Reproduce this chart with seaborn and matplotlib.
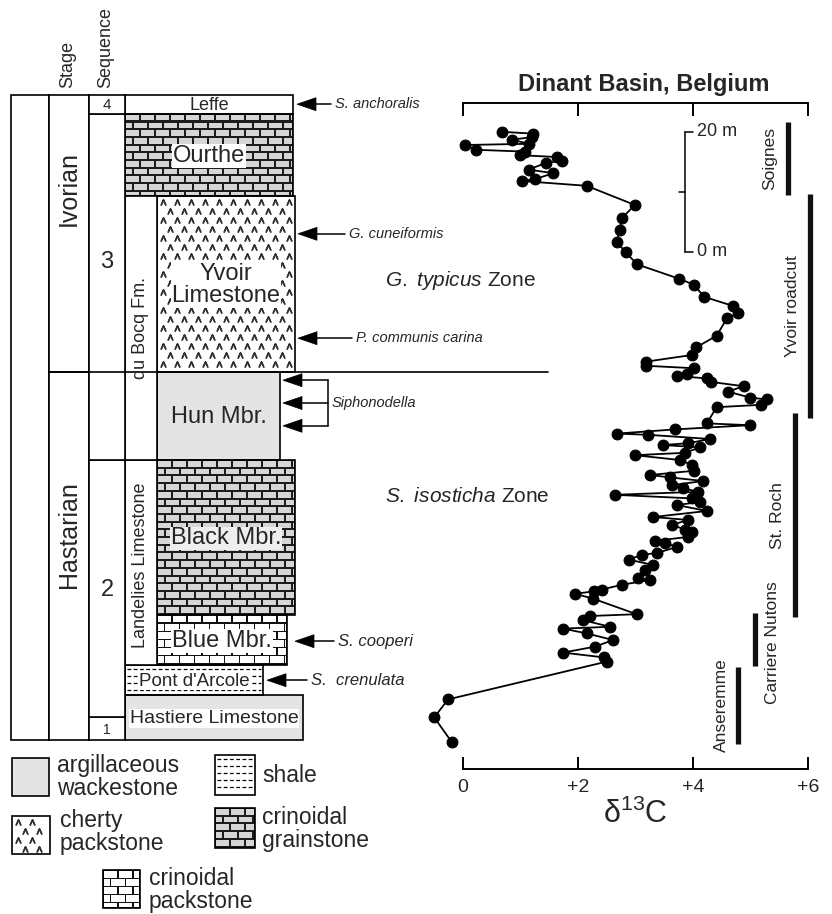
import numpy as np
import pandas as pd
import matplotlib
matplotlib.use("Agg")
import matplotlib.pyplot as plt
import seaborn as sns
from matplotlib.patches import Rectangle, Polygon

# ---------------- data ----------------
# carbon isotope curve (height above base of column, metres ; delta13C permil)
height_m = [0.55, 4.6, 7.6, 13.9, 14.6, 15.4, 16.4, 17.5, 18.6, 19.4, 19.7, 20.8, 21.5, 21.8,
            24.4, 25.2, 25.6, 25.9, 26.7, 27.5, 27.8, 29.2, 30.0, 30.9, 31.7, 32.0, 33.0, 33.7,
            34.0, 34.7, 35.5, 35.9, 36.7, 37.5, 38.0, 39.0, 40.0, 40.5, 41.1, 41.7, 42.2, 42.8,
            43.3, 44.0, 44.6, 45.0, 45.7, 46.7, 47.5, 48.3, 48.7, 49.6, 50.0, 50.3, 51.0, 51.7,
            51.9, 52.6, 53.3, 53.6, 56.3, 56.7, 57.6, 57.9, 58.9, 59.8, 60.5, 61.1, 61.5, 61.9,
            62.8, 63.2, 63.9, 65.0, 66.3, 68.2, 71.1, 72.0, 73.2, 74.7, 76.7, 77.7, 80.1, 82.1,
            83.9, 85.9, 87.8, 90.0, 93.2, 94.0, 94.3, 95.3, 95.9, 97.0, 97.4, 98.0, 98.3, 98.9,
            99.2, 100.0, 100.2, 100.9, 101.3, 101.9, 102.2]
d13c = [-0.20, -0.50, -0.26, 2.50, 2.45, 1.74, 2.30, 2.61, 2.15, 1.74, 2.56, 2.09, 2.21, 3.02,
        2.26, 1.95, 2.27, 2.41, 2.76, 3.25, 3.05, 3.17, 3.31, 2.88, 3.11, 3.37, 3.72, 3.51,
        3.34, 3.92, 3.98, 3.86, 3.63, 3.92, 3.31, 4.24, 3.72, 4.12, 3.98, 2.64, 4.09, 3.83,
        3.63, 4.18, 3.60, 3.25, 4.01, 3.98, 3.77, 2.99, 3.86, 4.12, 3.48, 3.92, 4.30, 3.22,
        2.67, 3.69, 4.99, 4.24, 4.41, 5.19, 5.28, 4.99, 4.61, 4.88, 4.32, 4.24, 3.72, 3.89,
        4.01, 3.19, 3.19, 3.98, 4.06, 4.41, 4.59, 4.79, 4.69, 4.19, 4.02, 3.76, 3.03, 2.83,
        2.67, 2.73, 2.76, 2.99, 2.15, 1.02, 1.25, 1.57, 1.14, 1.44, 1.72, 1.63, 0.99, 1.08,
        0.23, 0.03, 1.14, 0.85, 1.20, 1.22, 0.67]

xticks = [0, 2, 4, 6]
xtick_labels = ["0", "+2", "+4", "+6"]

# lithostratigraphic units (heights in metres)
unit_names = ["Hastiere Limestone", "Pont d'Arcole", "Blue Mbr.", "Black Mbr.", "Hun Mbr.",
              "Yvoir\nLimestone", "Ourthe", "Leffe"]
unit_base = [0.8, 8.3, 13.3, 21.7, 47.5, 62.2, 91.5, 105.2]
unit_top = [8.3, 13.3, 21.7, 47.5, 62.2, 91.5, 105.2, 108.4]
unit_lith = ["argillaceous wackestone", "shale", "crinoidal packstone", "crinoidal grainstone",
             "argillaceous wackestone", "cherty packstone", "crinoidal grainstone", "plain"]

stage_names = ["Hastarian", "Ivorian"]
stage_base = [0.8, 62.2]
stage_top = [62.2, 108.4]

seq_names = ["1", "2", "3", "4"]
seq_base = [0.8, 4.7, 47.5, 105.2]
seq_top = [4.7, 47.5, 105.2, 108.4]

formation_names = ["Landelies Limestone", "du Bocq Fm."]
formation_base = [13.3, 47.5]
formation_top = [47.5, 91.5]

conodont_names = ["S. anchoralis", "G. cuneiformis", "P. communis carina", "S. cooperi", "S.  crenulata"]
conodont_h = [106.8, 85.2, 67.8, 17.3, 10.8]
siphonodella_h = [60.8, 57.0, 53.2]

zone_names = ["G. typicus", "S. isosticha"]
zone_h = [77.5, 41.5]

section_names = ["Soignes", "Yvoir roadcut", "St. Roch", "Carriere Nutons", "Anseremme"]
section_base = [91.7, 54.5, 21.3, 13.2, 0.2]
section_top = [103.8, 91.8, 55.3, 22.0, 13.0]

legend_items = ["argillaceous wackestone", "cherty packstone", "shale",
                "crinoidal grainstone", "crinoidal packstone"]
legend_labels = ["argillaceous\nwackestone", "cherty\npackstone", "shale",
                 "crinoidal\ngrainstone", "crinoidal\npackstone"]

# ---------------- style ----------------
sns.set_style("white")
plt.rcParams['font.family'] = ['Liberation Sans', 'DejaVu Sans']
plt.rcParams['mathtext.fontset'] = 'custom'
plt.rcParams['mathtext.rm'] = 'Liberation Sans'
plt.rcParams['mathtext.it'] = 'Liberation Sans:italic'

W, H = 832, 914
fig = plt.figure(figsize=(W / 100, H / 100), dpi=100)

# overlay axes in pixel coordinates for the column diagram
ax0 = fig.add_axes([0, 0, 1, 1])
ax0.set_xlim(0, W)
ax0.set_ylim(H, 0)
ax0.axis('off')


def ypx(h):
    return 745 - 6.0 * h


LW = 1.2
GRAY = '#e4e4e4'


def outline(x0, x1, y0, y1, lw=LW):
    ax0.add_patch(Rectangle((x0, y0), x1 - x0, y1 - y0, fc='none', ec='black', lw=lw, zorder=5))


def bricks(x0, x1, y0, y1, bg, fg, rh, bw, inset):
    ax0.add_patch(Rectangle((x0, y0), x1 - x0, y1 - y0, fc=bg, ec='none', zorder=2))
    n = int(np.ceil((y1 - y0) / rh - 0.05))
    for i in range(n):
        ya = y0 + i * rh
        yb = min(ya + rh, y1)
        off = (i % 2) * bw / 2
        xs = x0 - off
        while xs < x1:
            xa = max(xs, x0)
            xb = min(xs + bw, x1)
            if xb - xa > 2 * inset + 0.5 and yb - ya > 2 * inset + 0.5:
                ax0.add_patch(Rectangle((xa + inset, ya + inset), xb - xa - 2 * inset,
                                        yb - ya - 2 * inset, fc=fg, ec='none', zorder=3))
            xs += bw


def cherty(x0, x1, y0, y1):
    ax0.add_patch(Rectangle((x0, y0), x1 - x0, y1 - y0, fc='white', ec='none', zorder=2))
    xs, ys = [], []
    j = 0
    y = y0 + 6
    while y < y1 - 3:
        off = 7 if j % 2 else 0
        x = x0 + 6 + off
        while x < x1 - 4:
            xs.append(x)
            ys.append(y)
            x += 14
        y += 9
        j += 1
    ax0.plot(xs, ys, ls='none', marker=r'$\wedge$', ms=4.0, color='#333333', zorder=3)


def shale(x0, x1, y0, y1):
    ax0.add_patch(Rectangle((x0, y0), x1 - x0, y1 - y0, fc='white', ec='none', zorder=2))
    y = y0 + 4
    while y < y1 - 2:
        ax0.plot([x0 + 2, x1 - 2], [y, y], ls=(0, (3, 2)), lw=0.9, color='black', zorder=3)
        y += 7


def fill_lith(lith, x0, x1, y0, y1):
    if lith == "crinoidal grainstone":
        bricks(x0, x1, y0, y1, '#1c1c1c', '#d6d6d6', 7.7, 15, 1.0)
    elif lith == "crinoidal packstone":
        bricks(x0, x1, y0, y1, '#111111', 'white', 8.2, 15, 0.55)
    elif lith == "cherty packstone":
        cherty(x0, x1, y0, y1)
    elif lith == "shale":
        shale(x0, x1, y0, y1)
    elif lith == "argillaceous wackestone":
        ax0.add_patch(Rectangle((x0, y0), x1 - x0, y1 - y0, fc=GRAY, ec='none', zorder=2))
    else:
        ax0.add_patch(Rectangle((x0, y0), x1 - x0, y1 - y0, fc='white', ec='none', zorder=2))
    outline(x0, x1, y0, y1)


# ---- column layout ----
X_T0, X_T1 = 11, 49       # Tournaisian
X_S1 = 89                 # stage column right edge
X_Q1 = 125                # sequence column right edge
X_F1 = 157                # formation column right edge
unit_left = [125, 125, 157, 157, 157, 157, 125, 125]
unit_right = [303, 263, 287, 295, 280, 295, 293, 293]
unit_fs = [14, 13.5, 17, 17, 17, 17, 17, 13]
unit_box = ['white', 'white', 'white', '#eeeeee', None, 'white', 'white', None]

for name, b, t, lith, xl, xr, fs, bx in zip(unit_names, unit_base, unit_top, unit_lith,
                                              unit_left, unit_right, unit_fs, unit_box):
    y0, y1 = ypx(t), ypx(b)
    fill_lith(lith, xl, xr, y0, y1)
    kw = {}
    if bx is not None:
        kw['bbox'] = dict(fc=bx, ec='none', pad=0.5)
    ax0.text((xl + xr) / 2, (y0 + y1) / 2 + 1, name, ha='center', va='center', fontsize=fs,
             linespacing=1.0, zorder=8, **kw)

# formation column
for name, b, t in zip(formation_names, formation_base, formation_top):
    y0, y1 = ypx(t), ypx(b)
    ax0.add_patch(Rectangle((X_Q1, y0), X_F1 - X_Q1, y1 - y0, fc='white', ec='black', lw=LW, zorder=5))
    ax0.text((X_Q1 + X_F1) / 2 - 0.5, (y0 + y1) / 2 + (0 if name.startswith('du') else 3), name,
             rotation=90, ha='center', va='center', fontsize=13, zorder=8)

# Tournaisian, stage and sequence columns
top_y, bot_y = ypx(stage_top[-1]), ypx(stage_base[0])
ax0.add_patch(Rectangle((X_T0, top_y), X_T1 - X_T0, bot_y - top_y, fc='white', ec='black', lw=LW, zorder=5))
ax0.text((X_T0 + X_T1) / 2, 423, "TOURNAISIAN", rotation=90, ha='center', va='center', fontsize=21)
stage_y = [535, 188]
for name, b, t, yy in zip(stage_names, stage_base, stage_top, stage_y):
    ax0.add_patch(Rectangle((X_T1, ypx(t)), X_S1 - X_T1, ypx(b) - ypx(t), fc='white', ec='black', lw=LW, zorder=5))
    ax0.text((X_T1 + X_S1) / 2, yy, name, rotation=90, ha='center', va='center', fontsize=18, zorder=8)
seq_fs = [10, 17, 17, 11]
seq_y = [None, 590, 262, None]
for name, b, t, fs, yy in zip(seq_names, seq_base, seq_top, seq_fs, seq_y):
    y0, y1 = ypx(t), ypx(b)
    ax0.add_patch(Rectangle((X_S1, y0), X_Q1 - X_S1, y1 - y0, fc='white', ec='black', lw=LW, zorder=5))
    ax0.text((X_S1 + X_Q1) / 2, yy if yy else (y0 + y1) / 2 + 1, name, ha='center', va='center',
             fontsize=fs, zorder=8)

# stage / zone boundary line extending to the right
ax0.plot([X_T1, 548], [ypx(stage_base[1])] * 2, color='black', lw=LW, zorder=6)

# column headers
ax0.text((X_T1 + X_S1) / 2 - 1, 88, "Stage", rotation=90, ha='center', va='bottom', fontsize=13)
ax0.text((X_S1 + X_Q1) / 2 - 1, 88, "Sequence", rotation=90, ha='center', va='bottom', fontsize=13)


# ---- conodont arrows ----
def arrow(tip_x, y, tail_x, hl=19, hh=6.5):
    ax0.add_patch(Polygon([(tip_x, y), (tip_x + hl, y - hh), (tip_x + hl, y + hh)],
                          closed=True, fc='black', ec='black', lw=0.5, zorder=7))
    ax0.plot([tip_x + hl - 1, tail_x], [y, y], color='black', lw=1.1, zorder=7)


con_tip = [297, 298, 298, 295, 267]
con_tail = [331, 345, 352, 334, 307]
con_fs = [10.5, 10.5, 10.5, 12, 12]
for name, h, tip, tail, fs in zip(conodont_names, conodont_h, con_tip, con_tail, con_fs):
    y = ypx(h)
    arrow(tip, y, tail)
    ax0.text(tail + 4, y, name, style='italic', ha='left', va='center', fontsize=fs)

sy = [ypx(h) for h in siphonodella_h]
for y in sy:
    arrow(283, y, 328)
ax0.plot([328, 328], [sy[0], sy[-1]], color='black', lw=1.1, zorder=7)
ax0.text(332, sy[1], "Siphonodella", style='italic', ha='left', va='center', fontsize=10.5)

for name, h in zip(zone_names, zone_h):
    ax0.text(385, ypx(h), r"$\mathit{" + name.replace(" ", r"\ ") + "}$ Zone",
             ha='left', va='center', fontsize=15)

# ---- lithology legend ----
leg_box = [(12, 758, 49, 796), (12, 816, 50, 854), (215, 755, 255, 795),
           (215, 808, 255, 848), (103, 870, 140, 908)]
leg_txt_x = [57, 60, 262, 262, 149]
leg_txt_y = [777, 832, 775, 829, 890]
for lith, lab, (x0, y0, x1, y1), tx, ty in zip(legend_items, legend_labels, leg_box, leg_txt_x, leg_txt_y):
    fill_lith(lith, x0, x1, y0, y1)
    ax0.text(tx, ty, lab, ha='left', va='center', fontsize=16.5, linespacing=0.98)

# ---------------- isotope curve ----------------
px_per_unit = 57.5
x0px = 463
left_px, right_px = x0px - 1 * px_per_unit, x0px + 6.4 * px_per_unit
ax = fig.add_axes([left_px / W, (H - 769) / H, (right_px - left_px) / W, (769 - 103) / H])
ax.patch.set_alpha(0)
ax.set_xlim(-1, 6.4)
ax.set_ylim(-4, 107)

df = pd.DataFrame({"d13C": d13c, "height": height_m})
sns.lineplot(data=df, x="d13C", y="height", sort=False, estimator=None, color='black',
             lw=1.3, marker='o', markersize=7.8, markeredgecolor='black', ax=ax, zorder=4)

for s in ['left', 'right']:
    ax.spines[s].set_visible(False)
for s in ['top', 'bottom']:
    ax.spines[s].set_visible(True)
    ax.spines[s].set_bounds(0, 6)
    ax.spines[s].set_linewidth(1.4)
    ax.spines[s].set_color('black')
ax.set_yticks([])
ax.set_xticks(xticks)
ax.set_xticklabels(xtick_labels)
ax.tick_params(axis='x', which='both', top=True, bottom=True, direction='in', length=9,
               width=1.4, labeltop=False, labelbottom=True, labelsize=14, pad=7, color='black')
ax.set_ylabel("")
ax.set_xlabel(r"δ$^{13}$C", fontsize=22)
ax.xaxis.set_label_coords((x0px + 3 * px_per_unit - left_px) / (right_px - left_px), -0.044)

# section bars
sec_x = [5.65, 6.03, 5.77, 5.08, 4.78]
sec_dx = [-18, -17, -17, 17, -16]
for name, b, t, x, dx in zip(section_names, section_base, section_top, sec_x, sec_dx):
    ax.plot([x, x], [b, t], color='#111111', lw=3.8, solid_capstyle='butt', clip_on=False)
    ax.text(x + dx / px_per_unit, (b + t) / 2 + (-0.5 if name.startswith('Carr') else 0), name,
            rotation=90, ha='center', va='center', fontsize=12.5, clip_on=False)

# metre scale bar
sb_x = 3.86
scale_m = [0, 20]
sb_base = 82.2
ax.plot([sb_x, sb_x], [sb_base + scale_m[0], sb_base + scale_m[1]], color='black', lw=1.1)
for m in scale_m:
    ax.plot([sb_x, sb_x + 8 / px_per_unit], [sb_base + m] * 2, color='black', lw=1.1)
    ax.text(sb_x + 12 / px_per_unit, sb_base + m, f"{m} m", ha='left', va='center', fontsize=13)
ax.plot([sb_x - 6 / px_per_unit, sb_x], [sb_base + 10] * 2, color='black', lw=1.1)

# title
ax0.text(644, 84, "Dinant Basin, Belgium", ha='center', va='center', fontsize=17, fontweight='bold')

fig.savefig("out.png", dpi=100)
